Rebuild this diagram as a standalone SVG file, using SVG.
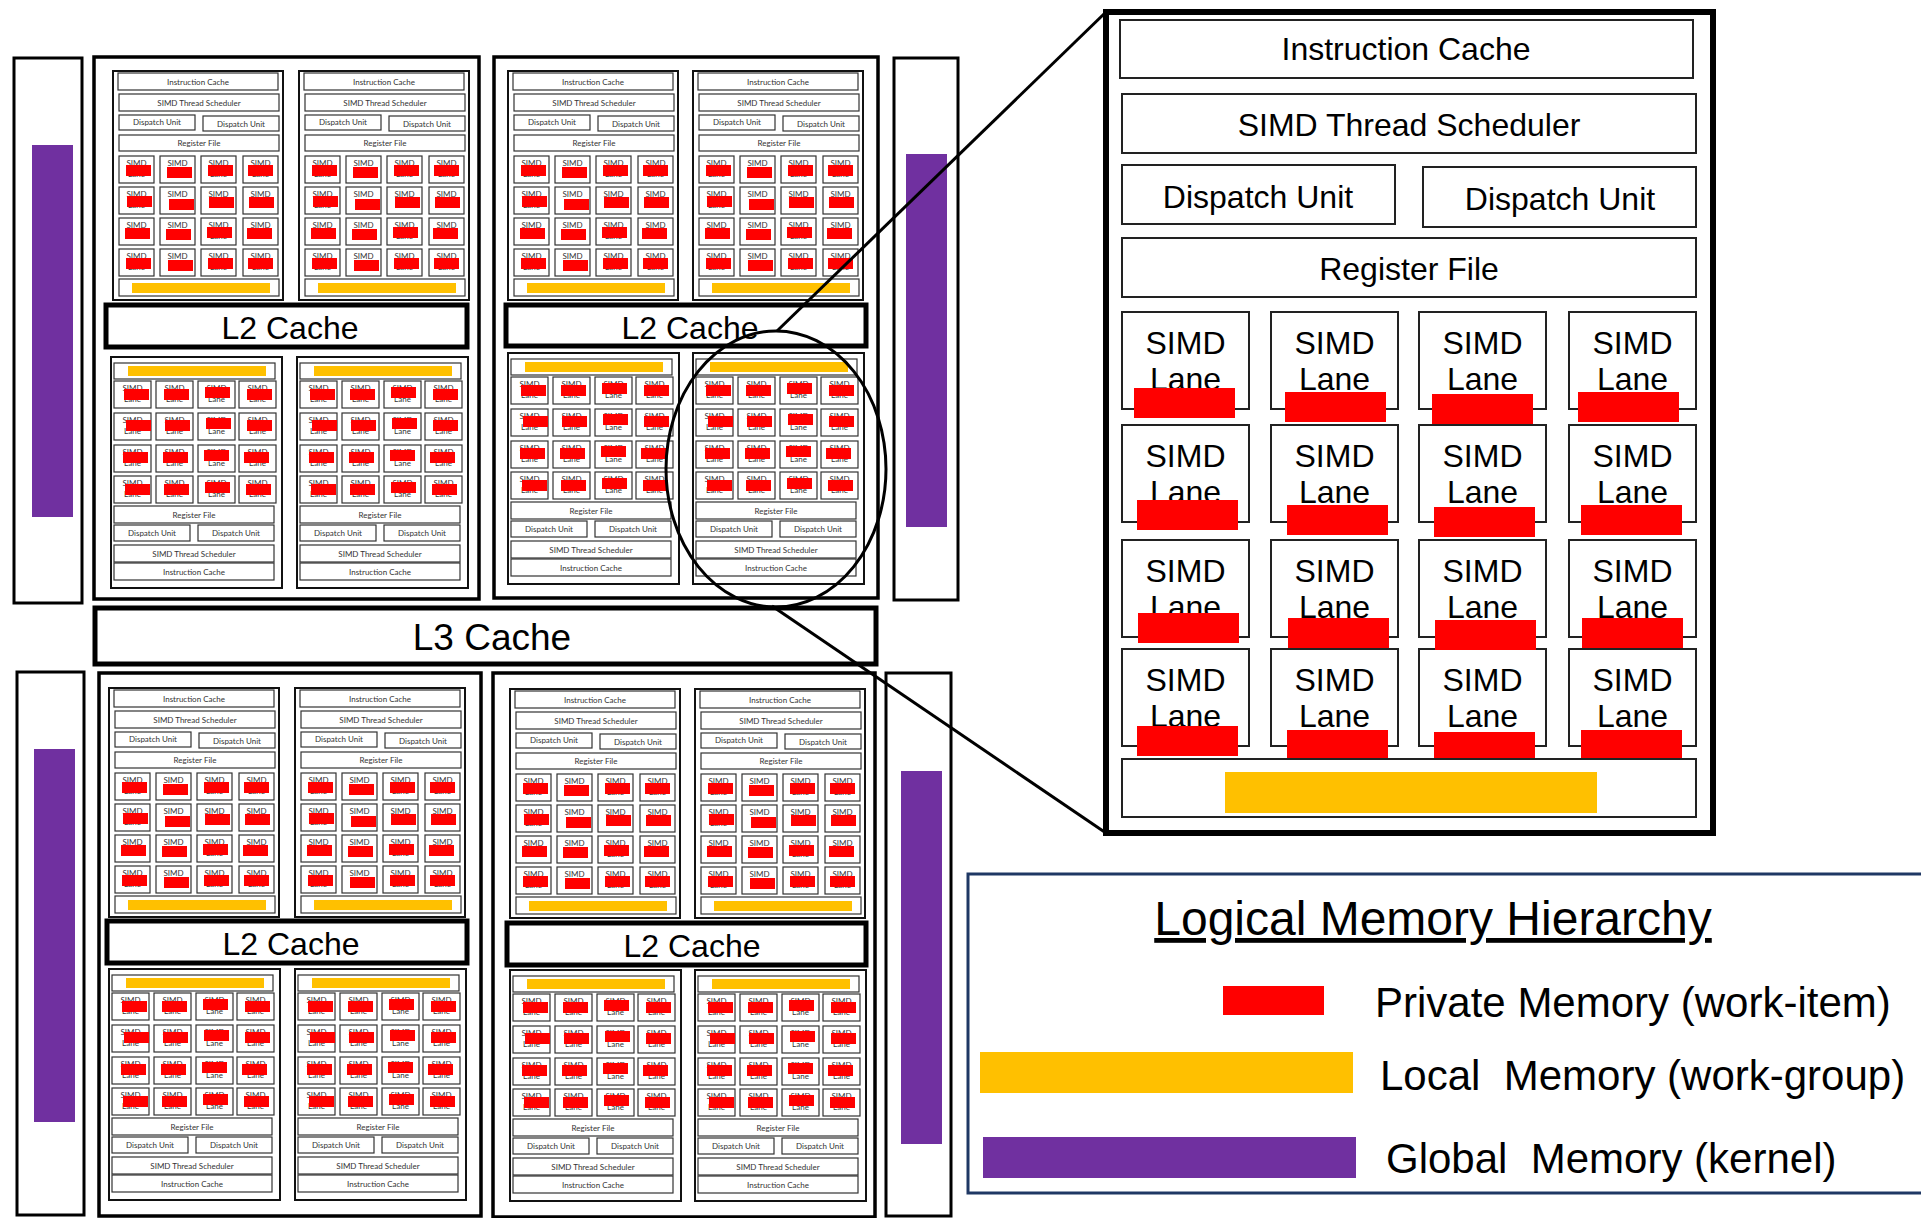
<svg xmlns="http://www.w3.org/2000/svg" xmlns:xlink="http://www.w3.org/1999/xlink" width="1921" height="1218" viewBox="0 0 1921 1218">
<style>
.q{fill:#fff;stroke:#000;stroke-width:3.5}
.col{fill:#fff;stroke:#000;stroke-width:3}
.gm{fill:#7030A0}
.l2{fill:#fff;stroke:#000;stroke-width:5}
.smo{fill:#fff;stroke:#111;stroke-width:2}
.sb{fill:#fff;stroke:#333;stroke-width:1.2}
.st{font-family:Lato,"Liberation Sans",sans-serif;font-size:8px;fill:#333;text-anchor:middle}
.pm{fill:#f00}
.lm{fill:#FFC000}
.big{font-family:"Liberation Sans",Arial,sans-serif;text-anchor:middle;fill:#000}
.db{fill:#fff;stroke:#222;stroke-width:2}
.dt{font-family:"Liberation Sans",Arial,sans-serif;font-size:32px;text-anchor:middle;fill:#000}
.zoom{fill:none;stroke:#000;stroke-width:3}
.lg{font-family:"Liberation Sans",Arial,sans-serif;font-size:42px;fill:#000;white-space:pre}
</style>
<defs>
  <g id="laneS">
    <rect class="sb" x="0" y="0" width="35" height="27"/>
    <text class="st" x="17.5" y="10">SIMD</text>
    <text class="st" x="17.5" y="20.5">Lane</text>
  </g>
  <g id="laneB">
    <rect class="sb" x="0" y="0" width="37" height="27"/>
    <text class="st" x="18.5" y="10">SIMD</text>
    <text class="st" x="18.5" y="21">Lane</text>
  </g>
  <g id="laneD">
    <rect class="db" x="0" y="0" width="127" height="97"/>
    <text class="dt" x="63.5" y="42">SIMD</text>
    <text class="dt" x="63.5" y="78">Lane</text>
  </g>
  <g id="smTop">
    <rect class="smo" x="0" y="0" width="170" height="229"/>
    <rect class="sb" x="5" y="2" width="160" height="17"/>
    <text class="st" x="85" y="13.5">Instruction Cache</text>
    <rect class="sb" x="6" y="23" width="160" height="17"/>
    <text class="st" x="86" y="34.5">SIMD Thread Scheduler</text>
    <rect class="sb" x="6" y="44" width="76" height="15"/>
    <text class="st" x="44" y="54">Dispatch Unit</text>
    <rect class="sb" x="90" y="45" width="76" height="15"/>
    <text class="st" x="128" y="55.5">Dispatch Unit</text>
    <rect class="sb" x="6" y="64" width="160" height="16"/>
    <text class="st" x="86" y="75">Register File</text>
    <use href="#laneS" x="6" y="85"/><use href="#laneS" x="47" y="85"/><use href="#laneS" x="88" y="85"/><use href="#laneS" x="130" y="85"/>
    <use href="#laneS" x="6" y="116"/><use href="#laneS" x="47" y="116"/><use href="#laneS" x="88" y="116"/><use href="#laneS" x="130" y="116"/>
    <use href="#laneS" x="6" y="147"/><use href="#laneS" x="47" y="147"/><use href="#laneS" x="88" y="147"/><use href="#laneS" x="130" y="147"/>
    <use href="#laneS" x="6" y="178"/><use href="#laneS" x="47" y="178"/><use href="#laneS" x="88" y="178"/><use href="#laneS" x="130" y="178"/>
    <rect class="pm" x="13" y="94" width="25" height="11"/><rect class="pm" x="54" y="96" width="25" height="11"/><rect class="pm" x="95" y="94" width="25" height="11"/><rect class="pm" x="135" y="94" width="25" height="11"/>
    <rect class="pm" x="14" y="125" width="25" height="11"/><rect class="pm" x="56" y="128" width="25" height="11"/><rect class="pm" x="96" y="126" width="25" height="11"/><rect class="pm" x="136" y="126" width="25" height="11"/>
    <rect class="pm" x="12" y="157" width="25" height="11"/><rect class="pm" x="53" y="158" width="25" height="11"/><rect class="pm" x="94" y="156" width="25" height="11"/><rect class="pm" x="134" y="157" width="25" height="11"/>
    <rect class="pm" x="13" y="187" width="25" height="11"/><rect class="pm" x="55" y="189" width="25" height="11"/><rect class="pm" x="95" y="187" width="25" height="11"/><rect class="pm" x="135" y="187" width="25" height="11"/>
    <rect class="sb" x="6" y="208" width="160" height="17"/>
    <rect class="lm" x="19" y="212" width="138" height="10"/>
  </g>
  <g id="smBot">
    <rect class="smo" x="0" y="0" width="171" height="231"/>
    <rect class="sb" x="3" y="6" width="161" height="16"/>
    <rect class="lm" x="17" y="9" width="138" height="10"/>
    <use href="#laneB" x="3" y="24"/><use href="#laneB" x="45" y="24"/><use href="#laneB" x="87" y="24"/><use href="#laneB" x="128" y="24"/>
    <use href="#laneB" x="3" y="56"/><use href="#laneB" x="45" y="56"/><use href="#laneB" x="87" y="56"/><use href="#laneB" x="128" y="56"/>
    <use href="#laneB" x="3" y="88"/><use href="#laneB" x="45" y="88"/><use href="#laneB" x="87" y="88"/><use href="#laneB" x="128" y="88"/>
    <use href="#laneB" x="3" y="119"/><use href="#laneB" x="45" y="119"/><use href="#laneB" x="87" y="119"/><use href="#laneB" x="128" y="119"/>
    <rect class="pm" x="13" y="32" width="25" height="11"/><rect class="pm" x="53" y="32" width="25" height="11"/><rect class="pm" x="94" y="30" width="25" height="11"/><rect class="pm" x="136" y="32" width="25" height="11"/>
    <rect class="pm" x="15" y="63" width="25" height="11"/><rect class="pm" x="54" y="63" width="25" height="11"/><rect class="pm" x="95" y="61" width="25" height="11"/><rect class="pm" x="136" y="63" width="25" height="11"/>
    <rect class="pm" x="12" y="95" width="25" height="11"/><rect class="pm" x="52" y="95" width="25" height="11"/><rect class="pm" x="93" y="93" width="25" height="11"/><rect class="pm" x="133" y="95" width="25" height="11"/>
    <rect class="pm" x="14" y="127" width="25" height="11"/><rect class="pm" x="53" y="127" width="25" height="11"/><rect class="pm" x="94" y="125" width="25" height="11"/><rect class="pm" x="135" y="127" width="25" height="11"/>
    <rect class="sb" x="3" y="149" width="160" height="17"/>
    <text class="st" x="83" y="160.5">Register File</text>
    <rect class="sb" x="3" y="168" width="76" height="16"/>
    <text class="st" x="41" y="179">Dispatch Unit</text>
    <rect class="sb" x="87" y="168" width="76" height="16"/>
    <text class="st" x="125" y="179">Dispatch Unit</text>
    <rect class="sb" x="3" y="188" width="160" height="17"/>
    <text class="st" x="83" y="199.5">SIMD Thread Scheduler</text>
    <rect class="sb" x="3" y="206" width="160" height="17"/>
    <text class="st" x="83" y="217.5">Instruction Cache</text>
  </g>
</defs>
<rect x="0" y="0" width="1921" height="1218" fill="#fff"/>

<!-- global memory columns -->
<g id="global-tl"><rect class="col" x="14" y="58" width="68" height="545"/><rect class="gm" x="32" y="145" width="41" height="372"/></g>
<g id="global-tr"><rect class="col" x="894" y="58" width="64" height="542"/><rect class="gm" x="906" y="154" width="41" height="373"/></g>
<g id="global-bl"><rect class="col" x="17" y="672" width="67" height="543"/><rect class="gm" x="34" y="749" width="41" height="373"/></g>
<g id="global-br"><rect class="col" x="886" y="673" width="65" height="543"/><rect class="gm" x="901" y="771" width="41" height="373"/></g>

<!-- quadrant: top-left -->
<g id="gpu-tl">
  <rect class="q" x="94" y="57" width="385" height="542"/>
  <g id="sm-tl-1"><use href="#smTop" x="113" y="71"/></g>
  <g id="sm-tl-2"><use href="#smTop" x="299" y="71"/></g>
  <g id="l2-tl"><rect class="l2" x="106" y="305" width="361" height="42"/><text class="big" x="290" y="339" font-size="32">L2 Cache</text></g>
  <g id="sm-tl-3"><use href="#smBot" x="111" y="357"/></g>
  <g id="sm-tl-4"><use href="#smBot" x="297" y="357"/></g>
</g>
<!-- quadrant: top-right -->
<g id="gpu-tr">
  <rect class="q" x="494" y="57" width="384" height="541"/>
  <g id="sm-tr-1"><use href="#smTop" x="508" y="71"/></g>
  <g id="sm-tr-2"><use href="#smTop" x="693" y="71"/></g>
  <g id="l2-tr"><rect class="l2" x="506" y="305" width="360" height="41"/><text class="big" x="690" y="339" font-size="32">L2 Cache</text></g>
  <g id="sm-tr-3"><use href="#smBot" x="508" y="353"/></g>
  <g id="sm-tr-4"><use href="#smBot" x="693" y="353"/></g>
</g>
<!-- L3 -->
<g id="l3"><rect class="l2" x="95" y="608" width="781" height="56"/><text class="big" x="492" y="650" font-size="37">L3 Cache</text></g>
<!-- quadrant: bottom-left -->
<g id="gpu-bl">
  <rect class="q" x="99" y="673" width="382" height="543"/>
  <g id="sm-bl-1"><use href="#smTop" x="109" y="688"/></g>
  <g id="sm-bl-2"><use href="#smTop" x="295" y="688"/></g>
  <g id="l2-bl"><rect class="l2" x="107" y="921" width="360" height="42"/><text class="big" x="291" y="955" font-size="32">L2 Cache</text></g>
  <g id="sm-bl-3"><use href="#smBot" x="109" y="969"/></g>
  <g id="sm-bl-4"><use href="#smBot" x="295" y="969"/></g>
</g>
<!-- quadrant: bottom-right -->
<g id="gpu-br">
  <rect class="q" x="493" y="673" width="382" height="544"/>
  <g id="sm-br-1"><use href="#smTop" x="510" y="689"/></g>
  <g id="sm-br-2"><use href="#smTop" x="695" y="689"/></g>
  <g id="l2-br"><rect class="l2" x="507" y="923" width="359" height="42"/><text class="big" x="692" y="957" font-size="32">L2 Cache</text></g>
  <g id="sm-br-3"><use href="#smBot" x="510" y="970"/></g>
  <g id="sm-br-4"><use href="#smBot" x="695" y="970"/></g>
</g>

<!-- detail panel -->
<g id="detail">
  <rect x="1106" y="12" width="607" height="821" fill="#fff" stroke="#000" stroke-width="6"/>
  <rect class="db" x="1120" y="20" width="573" height="58"/>
  <text class="dt" x="1406" y="60">Instruction Cache</text>
  <rect class="db" x="1122" y="94" width="574" height="59"/>
  <text class="dt" x="1409" y="136">SIMD Thread Scheduler</text>
  <rect class="db" x="1122" y="165" width="273" height="59"/>
  <text class="dt" x="1258" y="208">Dispatch Unit</text>
  <rect class="db" x="1423" y="167" width="273" height="60"/>
  <text class="dt" x="1560" y="210">Dispatch Unit</text>
  <rect class="db" x="1122" y="238" width="574" height="59"/>
  <text class="dt" x="1409" y="280">Register File</text>
  <use href="#laneD" x="1122" y="312"/><use href="#laneD" x="1271" y="312"/><use href="#laneD" x="1419" y="312"/><use href="#laneD" x="1569" y="312"/>
  <use href="#laneD" x="1122" y="425"/><use href="#laneD" x="1271" y="425"/><use href="#laneD" x="1419" y="425"/><use href="#laneD" x="1569" y="425"/>
  <use href="#laneD" x="1122" y="540"/><use href="#laneD" x="1271" y="540"/><use href="#laneD" x="1419" y="540"/><use href="#laneD" x="1569" y="540"/>
  <use href="#laneD" x="1122" y="649"/><use href="#laneD" x="1271" y="649"/><use href="#laneD" x="1419" y="649"/><use href="#laneD" x="1569" y="649"/>
  <rect class="pm" x="1134" y="388" width="101" height="30"/><rect class="pm" x="1285" y="392" width="101" height="30"/><rect class="pm" x="1432" y="394" width="101" height="30"/><rect class="pm" x="1578" y="392" width="101" height="30"/>
  <rect class="pm" x="1137" y="500" width="101" height="30"/><rect class="pm" x="1287" y="505" width="101" height="30"/><rect class="pm" x="1434" y="507" width="101" height="30"/><rect class="pm" x="1581" y="505" width="101" height="30"/>
  <rect class="pm" x="1138" y="613" width="101" height="30"/><rect class="pm" x="1288" y="618" width="101" height="30"/><rect class="pm" x="1435" y="620" width="101" height="30"/><rect class="pm" x="1582" y="618" width="101" height="30"/>
  <rect class="pm" x="1137" y="726" width="101" height="30"/><rect class="pm" x="1287" y="730" width="101" height="30"/><rect class="pm" x="1434" y="732" width="101" height="30"/><rect class="pm" x="1581" y="730" width="101" height="30"/>
  <rect class="db" x="1122" y="759" width="574" height="58"/>
  <rect class="lm" x="1225" y="772" width="372" height="41"/>
</g>

<!-- zoom connectors -->
<g id="connectors">
  <ellipse class="zoom" cx="776" cy="469" rx="110" ry="138"/>
  <line class="zoom" x1="777" y1="331" x2="1106" y2="12"/>
  <line class="zoom" x1="772" y1="606" x2="1106" y2="833"/>
</g>

<!-- legend -->
<g id="legend">
  <rect x="968" y="874" width="960" height="319" fill="#fff" stroke="#1F3864" stroke-width="3"/>
  <text x="1433" y="935" font-family="Liberation Sans, Arial, sans-serif" font-size="48" text-anchor="middle" text-decoration="underline">Logical Memory Hierarchy</text>
  <rect class="pm" x="1223" y="986" width="101" height="29"/>
  <text class="lg" x="1375" y="1017">Private Memory (work-item)</text>
  <rect class="lm" x="980" y="1052" width="373" height="41"/>
  <text class="lg" x="1380" y="1090">Local  Memory (work-group)</text>
  <rect class="gm" x="983" y="1137" width="373" height="41"/>
  <text class="lg" x="1386" y="1173">Global  Memory (kernel)</text>
</g>
</svg>
